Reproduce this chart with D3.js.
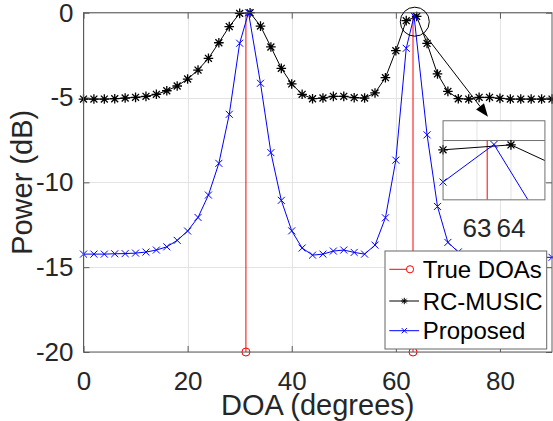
<!DOCTYPE html>
<html>
<head>
<meta charset="utf-8">
<script src="https://cdn.jsdelivr.net/npm/d3@7"></script>
<style>
  body { margin: 0; background: #fff; }
  text { font-family: "Liberation Sans", Arial, sans-serif; }
</style>
</head>
<body>
<div id="chart"></div>
<script>
// data
const trueDOAs = [31.2, 63.3];

const musicX = d3.range(0, 91, 2);
const musicY = [-5.09, -5.09, -5.09, -5.07, -5.03, -4.99, -4.93, -4.81, -4.60, -4.32,
    -3.91, -3.38, -2.69, -1.77, -0.82, -0.04, 0, -0.79, -2.02, -3.28,
    -4.20, -4.81, -5.07, -5.03, -4.93, -4.93, -5.01, -5.03, -4.73, -3.83,
    -2.24, -0.47, -0.22, -1.81, -3.61, -4.64, -5.07, -5.09, -4.99, -4.99,
    -5.05, -5.09, -5.09, -5.09, -5.09, -5.09];

const propX = [0, 2, 4, 6, 8, 10, 12, 14, 16, 18, 20, 22, 24, 26, 28, 30, 31.7,
    34, 36, 38, 40, 42, 44, 46, 48, 50, 52, 54, 56, 58, 60, 62, 63.5,
    66, 68, 70, 72, 74, 76, 78, 80, 82, 84, 86, 88, 90];
const propY = [-14.23, -14.23, -14.23, -14.21, -14.20, -14.17, -14.11, -13.99, -13.80, -13.42,
    -12.87, -12.07, -10.75, -8.88, -5.99, -1.80, 0,
    -4.16, -8.25, -11.06, -12.86, -13.87, -14.29, -14.23, -14.05, -13.99, -14.13, -14.23, -13.70, -12.09,
    -8.69, -2.10, -0.20,
    -7.20, -11.42, -13.54, -14.10, -14.30, -14.38, -14.40, -14.42, -14.42, -14.42, -14.42, -14.42, -14.42];

const xTicks = [0, 20, 40, 60, 80];
const yTicks = [-20, -15, -10, -5, 0];
const insetTicks = [63, 64];
const legendLabels = ["True DOAs", "RC-MUSIC", "Proposed"];

const musicData = musicX.map((d, i) => ({ x: d, y: musicY[i] }));
const propData = propX.map((d, i) => ({ x: d, y: propY[i] }));

const width = 553, height = 421;
const svg = d3.select("#chart").append("svg")
    .attr("width", width).attr("height", height);

const x = d3.scaleLinear().domain([0, 90]).range([83.5, 552]);
const y = d3.scaleLinear().domain([-20, 0]).range([352, 12.7]);

const gridColor = "#e3e3e3";
const axisColor = "#5a5a5a";
const textColor = "#262626";

// marker shapes
const star = r => `M${-r},0H${r}M0,${-r}V${r}M${-r * 0.72},${-r * 0.72}L${r * 0.72},${r * 0.72}M${-r * 0.72},${r * 0.72}L${r * 0.72},${-r * 0.72}`;
const cross = r => `M${-r},${-r}L${r},${r}M${-r},${r}L${r},${-r}`;

// grid
svg.append("g").selectAll("line").data(xTicks).join("line")
    .attr("x1", d => Math.round(x(d)) + 0.5).attr("x2", d => Math.round(x(d)) + 0.5)
    .attr("y1", y(0)).attr("y2", y(-20))
    .attr("stroke", gridColor);
svg.append("g").selectAll("line").data(yTicks).join("line")
    .attr("y1", d => Math.round(y(d)) + 0.5).attr("y2", d => Math.round(y(d)) + 0.5)
    .attr("x1", x(0)).attr("x2", x(90))
    .attr("stroke", gridColor);

// axes (plain hyphen minus like the original)
const fmt = d => String(d);
const fontTick = "26px";
const gx = svg.append("g")
    .attr("transform", `translate(0,${y(-20)})`)
    .call(d3.axisBottom(x).tickValues(xTicks).tickSize(-6).tickPadding(19.5).tickFormat(fmt));
const gy = svg.append("g")
    .attr("transform", `translate(${x(0)},0)`)
    .call(d3.axisLeft(y).tickValues(yTicks).tickSize(-6).tickPadding(10).tickFormat(fmt));
const gt = svg.append("g")
    .attr("transform", `translate(0,${y(0)})`)
    .call(d3.axisTop(x).tickValues(xTicks).tickSize(-6).tickFormat(""));
const gr = svg.append("g")
    .attr("transform", `translate(${x(90)},0)`)
    .call(d3.axisRight(y).tickValues(yTicks).tickSize(-6).tickFormat(""));
[gx, gy, gt, gr].forEach(g => {
    g.select(".domain").remove();
    g.selectAll(".tick line").attr("stroke", axisColor);
    g.selectAll("text").attr("fill", textColor).style("font-size", fontTick)
        .style("font-family", "'Liberation Sans', Arial, sans-serif");
});

// main series
const line = d3.line().x(d => x(d.x)).y(d => y(d.y));

svg.append("g").selectAll("line").data(trueDOAs).join("line")
    .attr("x1", d => x(d)).attr("x2", d => x(d))
    .attr("y1", y(-20)).attr("y2", y(0))
    .attr("stroke", "#ff0000").attr("stroke-width", 1);
svg.append("g").selectAll("circle").data(trueDOAs).join("circle")
    .attr("cx", d => x(d)).attr("cy", y(-20)).attr("r", 4)
    .attr("fill", "none").attr("stroke", "#ff0000");

svg.append("path").datum(musicData)
    .attr("d", line).attr("fill", "none").attr("stroke", "#000").attr("stroke-width", 1);
svg.append("g").selectAll("path").data(musicData).join("path")
    .attr("transform", d => `translate(${x(d.x)},${y(d.y)})`)
    .attr("d", star(4.8)).attr("stroke", "#000").attr("stroke-width", 1.3).attr("fill", "none");

svg.append("path").datum(propData)
    .attr("d", line).attr("fill", "none").attr("stroke", "#0000ff").attr("stroke-width", 1);
svg.append("g").selectAll("path").data(propData).join("path")
    .attr("transform", d => `translate(${x(d.x)},${y(d.y)})`)
    .attr("d", cross(3.5)).attr("stroke", "#0000ff").attr("stroke-width", 1).attr("fill", "none");

// frame
svg.append("rect")
    .attr("x", x(0)).attr("y", y(0))
    .attr("width", x(90) - x(0)).attr("height", y(-20) - y(0))
    .attr("fill", "none").attr("stroke", axisColor).attr("stroke-width", 1);

// zoom circle and arrow
const focus = { x: 63.64, y: -0.53 };
const focusR = 14.5;
const tip = { x: 77.7, y: -6.13 };
const cx = x(focus.x), cy = y(focus.y);
svg.append("circle").attr("cx", cx).attr("cy", cy).attr("r", focusR)
    .attr("fill", "none").attr("stroke", "#000").attr("stroke-width", 1);
const tx = x(tip.x), ty = y(tip.y);
const ang = Math.atan2(ty - cy, tx - cx);
const headL = 13, headW = 5;
const bx = tx - headL * Math.cos(ang), by = ty - headL * Math.sin(ang);
svg.append("line")
    .attr("x1", cx + focusR * Math.cos(ang)).attr("y1", cy + focusR * Math.sin(ang))
    .attr("x2", bx).attr("y2", by)
    .attr("stroke", "#000").attr("stroke-width", 1);
svg.append("path")
    .attr("d", `M${tx},${ty}L${bx + headW * Math.sin(ang)},${by - headW * Math.cos(ang)}L${bx - headW * Math.sin(ang)},${by + headW * Math.cos(ang)}Z`)
    .attr("fill", "#000");

// inset
const insetBox = { x0: 69.07, x1: 88.64, y0: -6.37, y1: -11.03 };
const ix = d3.scaleLinear().domain([62, 65]).range([x(insetBox.x0), x(insetBox.x1)]);
const iy = d3.scaleLinear().domain([-3, 1]).range([y(insetBox.y1), y(insetBox.y0)]);
const inset = svg.append("g");
inset.append("rect")
    .attr("x", ix(62)).attr("y", iy(1))
    .attr("width", ix(65) - ix(62)).attr("height", iy(-3) - iy(1))
    .attr("fill", "#fff");
inset.append("clipPath").attr("id", "insetClip").append("rect")
    .attr("x", ix(62)).attr("y", iy(1))
    .attr("width", ix(65) - ix(62)).attr("height", iy(-3) - iy(1));
inset.selectAll(".vgrid").data(insetTicks).join("line")
    .attr("x1", d => ix(d)).attr("x2", d => ix(d))
    .attr("y1", iy(1)).attr("y2", iy(-3))
    .attr("stroke", gridColor);
inset.append("line")
    .attr("x1", ix(62)).attr("x2", ix(65)).attr("y1", iy(0)).attr("y2", iy(0))
    .attr("stroke", "#707070");
const iline = d3.line().x(d => ix(d.x)).y(d => iy(d.y));
const clipped = inset.append("g").attr("clip-path", "url(#insetClip)");
clipped.selectAll(".doa").data(trueDOAs).join("line")
    .attr("x1", d => ix(d)).attr("x2", d => ix(d))
    .attr("y1", iy(-3)).attr("y2", iy(0))
    .attr("stroke", "#ff0000");
clipped.append("path").datum(musicData).attr("d", iline)
    .attr("fill", "none").attr("stroke", "#000");
clipped.append("path").datum(propData).attr("d", iline)
    .attr("fill", "none").attr("stroke", "#0000ff");
const inDom = d => d.x >= 62 && d.x <= 65 && d.y >= -3 && d.y <= 1;
inset.append("g").selectAll("path").data(musicData.filter(inDom)).join("path")
    .attr("transform", d => `translate(${ix(d.x)},${iy(d.y)})`)
    .attr("d", star(4.8)).attr("stroke", "#000").attr("stroke-width", 1.3).attr("fill", "none");
inset.append("g").selectAll("path").data(propData.filter(inDom)).join("path")
    .attr("transform", d => `translate(${ix(d.x)},${iy(d.y)})`)
    .attr("d", cross(3.5)).attr("stroke", "#0000ff").attr("fill", "none");
inset.append("rect")
    .attr("x", ix(62)).attr("y", iy(1))
    .attr("width", ix(65) - ix(62)).attr("height", iy(-3) - iy(1))
    .attr("fill", "none").attr("stroke", "#707070");
inset.selectAll(".ilab").data(insetTicks).join("text")
    .attr("x", d => ix(d)).attr("y", iy(-3) + 37)
    .attr("text-anchor", "middle")
    .attr("fill", textColor).style("font-size", "26px")
    .text(d => d);

// legend
const lg = svg.append("g").attr("transform", "translate(385,251)");
lg.append("rect").attr("width", 161.7).attr("height", 98)
    .attr("fill", "#fff").attr("stroke", "#666").attr("stroke-width", 1);
const rows = [18.3, 50, 79.7];
const colors = ["#ff0000", "#000", "#0000ff"];
legendLabels.forEach((lab, i) => {
    const ry = rows[i];
    lg.append("line").attr("x1", 4.3).attr("x2", i === 0 ? 21.7 : 34)
        .attr("y1", ry).attr("y2", ry).attr("stroke", colors[i]);
    if (i === 0) {
        lg.append("circle").attr("cx", 25).attr("cy", ry).attr("r", 3.6)
            .attr("fill", "none").attr("stroke", colors[i]);
    } else if (i === 1) {
        lg.append("path").attr("transform", `translate(19.3,${ry})`)
            .attr("d", star(3.2)).attr("stroke", "#000").attr("fill", "none");
    } else {
        lg.append("path").attr("transform", `translate(19.3,${ry})`)
            .attr("d", cross(2.6)).attr("stroke", "#0000ff").attr("fill", "none");
    }
    lg.append("text").attr("x", 37.7).attr("y", ry + 8.5)
        .attr("fill", "#000").style("font-size", "24px")
        .text(lab);
});

// axis labels
svg.append("text")
    .attr("x", x(45)).attr("y", 415)
    .attr("text-anchor", "middle")
    .attr("fill", textColor).style("font-size", "29px")
    .text("DOA (degrees)");
svg.append("text")
    .attr("transform", `translate(31.7,${(y(0) + y(-20)) / 2}) rotate(-90)`)
    .attr("text-anchor", "middle")
    .attr("fill", textColor).style("font-size", "29px")
    .text("Power (dB)");
</script>
</body>
</html>
